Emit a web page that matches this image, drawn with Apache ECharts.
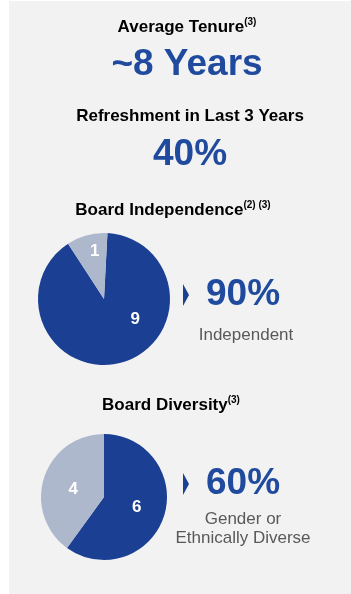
<!DOCTYPE html>
<html>
<head>
<meta charset="utf-8">
<style>
  html, body { margin: 0; padding: 0; background: #ffffff; }
  #chart { width: 351px; height: 594px; }
</style>
<script src="https://cdn.jsdelivr.net/npm/echarts@6/dist/echarts.min.js"></script>
</head>
<body>
<div id="chart"></div>
<script>
// Board composition figures
const tenureYears = 8;
const refreshmentPct = 40;
const independenceNames = ['Independent', 'Not independent'];
const independenceValues = [9, 1];
const diversityNames = ['Gender or ethnically diverse', 'Other'];
const diversityValues = [6, 4];

const DARK = '#1b3f93';
const LIGHT = '#aeb8cc';
const BLUE_TEXT = '#1f4a9e';
const TITLE = '#1a1a1a';
const GREY = '#595959';
const FONT = '"Liberation Sans", Arial, sans-serif';

function pct(values) {
  const total = values.reduce((a, b) => a + b, 0);
  return Math.round(values[0] / total * 100);
}

const chart = echarts.init(document.getElementById('chart'), null, { renderer: 'canvas' });

const supRich = {
  t: { fontFamily: FONT, fontWeight: 'bold', fontSize: 17, color: TITLE, lineHeight: 20 },
  s: { fontFamily: FONT, fontWeight: 'bold', fontSize: 10, color: TITLE, lineHeight: 20, verticalAlign: 'top', padding: [0, 0, 3, 0] }
};

function heading(x, y, text) {
  return {
    type: 'text', x: x, y: y, z: 10,
    style: { text: text, rich: supRich, align: 'center', verticalAlign: 'middle' }
  };
}

function bigNumber(x, y, text) {
  return {
    type: 'text', x: x, y: y, z: 10,
    style: { text: text, fontFamily: FONT, fontWeight: 'bold', fontSize: 37, fill: BLUE_TEXT, align: 'center', verticalAlign: 'middle' }
  };
}

function caption(x, y, text) {
  return {
    type: 'text', x: x, y: y, z: 10,
    style: { text: text, fontFamily: FONT, fontSize: 17, fill: GREY, align: 'center', verticalAlign: 'middle', lineHeight: 19 }
  };
}

function pointer(x, y) {
  return {
    type: 'polygon', z: 10,
    shape: { points: [[x, y - 11], [x + 6, y], [x, y + 11]] },
    style: { fill: DARK }
  };
}

const pieLabel = {
  show: true, position: 'inside', color: '#ffffff',
  fontFamily: FONT, fontWeight: 'bold', fontSize: 17
};

chart.setOption({
  animation: false,
  graphic: [
    { type: 'rect', z: 0, shape: { x: 9, y: 1, width: 342, height: 593 }, style: { fill: '#f2f2f2' } },
    heading(187, 27, '{t|Average Tenure}{s|(3)}'),
    bigNumber(187, 65, '~' + tenureYears + ' Years'),
    heading(190, 116, '{t|Refreshment in Last 3 Years}'),
    bigNumber(190, 155, refreshmentPct + '%'),
    heading(173, 210, '{t|Board Independence}{s|(2) (3)}'),
    pointer(183, 295),
    bigNumber(243, 295, pct(independenceValues) + '%'),
    caption(246, 335, 'Independent'),
    heading(171, 405, '{t|Board Diversity}{s|(3)}'),
    pointer(183, 484),
    bigNumber(243, 484, pct(diversityValues) + '%'),
    caption(243, 529, 'Gender or\nEthnically Diverse')
  ],
  series: [
    {
      type: 'pie',
      center: [104, 299],
      radius: 66,
      startAngle: 87,
      clockwise: true,
      silent: true,
      labelLine: { show: false },
      itemStyle: { borderWidth: 0 },
      data: [
        { name: independenceNames[0], value: independenceValues[0], itemStyle: { color: DARK },
          label: Object.assign({}, pieLabel, { offset: [22, -14], formatter: '{c}' }) },
        { name: independenceNames[1], value: independenceValues[1], itemStyle: { color: LIGHT },
          label: Object.assign({}, pieLabel, { offset: [0, -13], formatter: '{c}' }) }
      ]
    },
    {
      type: 'pie',
      center: [104, 497],
      radius: 63,
      startAngle: 90,
      clockwise: true,
      silent: true,
      labelLine: { show: false },
      itemStyle: { borderWidth: 0 },
      data: [
        { name: diversityNames[0], value: diversityValues[0], itemStyle: { color: DARK },
          label: Object.assign({}, pieLabel, { formatter: '{c}' }) },
        { name: diversityNames[1], value: diversityValues[1], itemStyle: { color: LIGHT },
          label: Object.assign({}, pieLabel, { offset: [2, 3], formatter: '{c}' }) }
      ]
    }
  ]
});
</script>
</body>
</html>
